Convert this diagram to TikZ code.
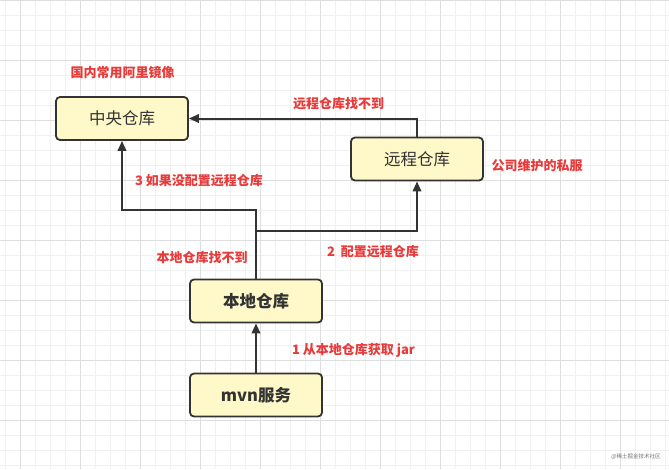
\documentclass[tikz,border=0pt]{standalone}
\usepackage{fontspec}
\newfontfamily\cjk{Noto Sans CJK SC}
\usetikzlibrary{arrows.meta}
\definecolor{boxfill}{RGB}{255,248,200}
\definecolor{boxline}{RGB}{51,51,51}
\definecolor{lblred}{RGB}{233,58,58}
\definecolor{gridminor}{RGB}{240,240,240}
\definecolor{gridmajor}{RGB}{222,222,222}
\begin{document}
\begin{tikzpicture}[x=1pt,y=-1pt,
  repo/.style={draw=boxline,fill=boxfill,line width=1.8pt,rounded corners=4pt,
    minimum width=132pt,minimum height=43pt,inner sep=0pt,
    font=\cjk\fontsize{16.5}{18}\selectfont,text=boxline},
  repob/.style={repo,font=\cjk\bfseries\fontsize{16.5}{18}\selectfont},
  lbl/.style={font=\cjk\bfseries\fontsize{13}{15}\selectfont,text=lblred,inner sep=0pt},
  conn/.style={draw=boxline,line width=2pt},
  arr/.style={conn,-{Triangle[length=10pt,width=8.5pt]}},
  wm/.style={font=\cjk\fontsize{5.5}{6}\selectfont,text=black!55,inner sep=0pt}]
\useasboundingbox (0,0) rectangle (669,469);
\fill[white] (0,0) rectangle (669,469);
% grid
\foreach \x in {5.7,20.7,...,669} \draw[gridminor,line width=0.8pt] (\x,0) -- (\x,469);
\foreach \y in {0,15,...,469} \draw[gridminor,line width=0.8pt] (0,\y) -- (669,\y);
\foreach \x in {20.7,80.7,...,669} \draw[gridmajor,line width=0.8pt] (\x,0) -- (\x,469);
\foreach \y in {0,60,...,469} \draw[gridmajor,line width=0.8pt] (0,\y) -- (669,\y);
% nodes
\node[repo]  (central) at (122,118.5) {中央仓库};
\node[repo]  (remote)  at (417,159) {远程仓库};
\node[repob] (local)   at (256,301) {本地仓库};
\node[repob] (mvn)     at (256,395) {mvn服务};
% junctions
\coordinate (j1) at (256,210);
\coordinate (j2) at (256,231);
% connectors
\draw[arr] (mvn.north) -- (local.south);
\draw[arr] (local.north) -- (j1) -| (central.south);
\draw[arr] (j2) -| (remote.south);
\draw[arr] (remote.north) |- (central.east);
% labels
\node[lbl] (l1) at (122.5,72.5) {国内常用阿里镜像};
\node[lbl] (l2) at (338.5,104) {远程仓库找不到};
\node[lbl] (l3) at (537,166) {公司维护的私服};
\node[lbl] (l4) at (199,180.5) {3 如果没配置远程仓库};
\node[lbl] (l5) at (373,251.5) {2\ \ 配置远程仓库};
\node[lbl] (l6) at (202,257.5) {本地仓库找不到};
\node[lbl] (l7) at (353.5,350) {1 从本地仓库获取 jar};
\node[wm] (w) at (636,457) {@稀土掘金技术社区};
\end{tikzpicture}
\end{document}
